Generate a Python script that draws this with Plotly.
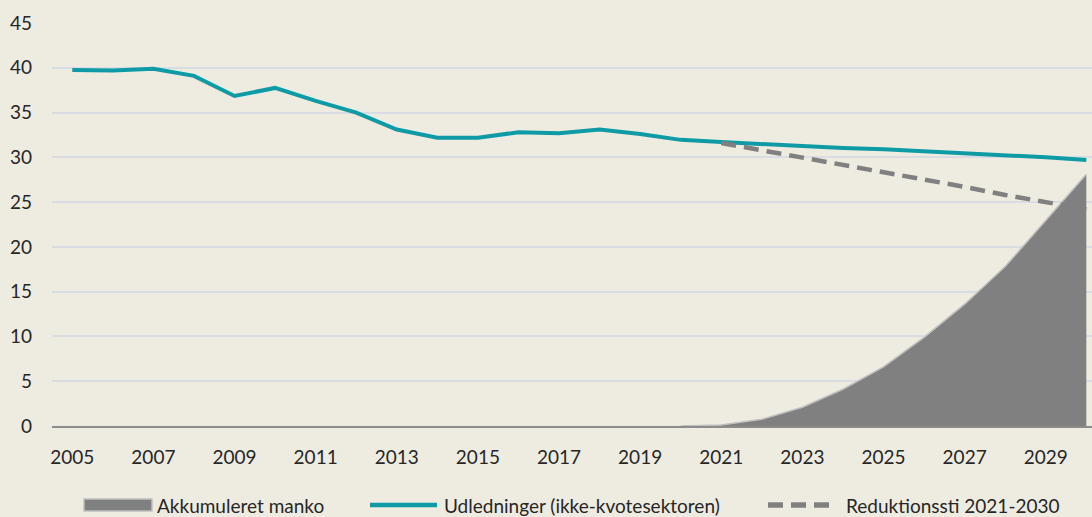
import plotly.graph_objects as go

years = list(range(2005, 2031))
udledninger = [39.75, 39.7, 39.9, 39.1, 36.85, 37.75, 36.3, 35.0, 33.1, 32.2, 32.2, 32.8,
               32.7, 33.1, 32.6, 31.95, 31.7, 31.45, 31.25, 31.05, 30.9, 30.7, 30.4, 30.2, 30.0, 29.7]

red_years = list(range(2021, 2031))
reduktionssti = [31.6, 30.8, 29.9, 29.1, 28.3, 27.5, 26.7, 25.8, 25.0, 24.2]

manko_years = list(range(2020, 2031))
manko = [0.0, 0.1, 0.75, 2.1, 4.1, 6.6, 9.9, 13.6, 17.8, 22.9, 28.1]

legend_names = ["Akkumuleret manko", "Udledninger (ikke-kvotesektoren)", "Reduktionssti 2021-2030"]

BG = "#EEECE1"
FONT = "Lato"
TXT = "#262626"
TEAL = "#0E9BA6"
GREY = "#808080"

W, H = 1092, 517
ML, MR, MT, MB = 52, 0, 23, 91
PW, PH = W - ML - MR, H - MT - MB


def px(x):
    return (x - ML) / PW


def py(y):
    return (H - MB - y) / PH


fig = go.Figure()
fig.add_trace(go.Scatter(
    x=manko_years, y=manko, name=legend_names[0], mode="lines",
    fill="tozeroy", fillcolor=GREY, line=dict(color="#BFBFBF", width=1.5),
    showlegend=False,
))
fig.add_trace(go.Scatter(
    x=years, y=udledninger, name=legend_names[1], mode="lines",
    line=dict(color=TEAL, width=4), showlegend=False,
))
fig.add_trace(go.Scatter(
    x=red_years, y=reduktionssti, name=legend_names[2], mode="lines",
    line=dict(color=GREY, width=4.5, dash="15px,8px"), showlegend=False,
))

# legend drawn as shapes + text
ly = 505
shapes = [
    dict(type="rect", xref="paper", yref="paper", x0=px(84), x1=px(152), y0=py(ly + 6), y1=py(ly - 6),
         fillcolor=GREY, line=dict(color="#BFBFBF", width=1.5), layer="above"),
    dict(type="line", xref="paper", yref="paper", x0=px(370), x1=px(437), y0=py(ly), y1=py(ly),
         line=dict(color=TEAL, width=4.5), layer="above"),
    dict(type="line", xref="paper", yref="paper", x0=px(768), x1=px(833), y0=py(ly), y1=py(ly),
         line=dict(color=GREY, width=5.5, dash="15px,8px"), layer="above"),
]
annotations = [
    dict(text=legend_names[0], x=px(157), y=py(ly), xref="paper", yref="paper",
         xanchor="left", yanchor="middle", showarrow=False),
    dict(text=legend_names[1], x=px(444), y=py(ly), xref="paper", yref="paper",
         xanchor="left", yanchor="middle", showarrow=False),
    dict(text=legend_names[2], x=px(846), y=py(ly), xref="paper", yref="paper",
         xanchor="left", yanchor="middle", showarrow=False),
]
for a in annotations:
    a["font"] = dict(family=FONT, size=19, color=TXT)
    a["xshift"] = -2

fig.update_layout(
    width=W, height=H,
    paper_bgcolor=BG, plot_bgcolor=BG,
    margin=dict(l=ML, r=MR, t=MT, b=MB),
    font=dict(family=FONT, size=19, color=TXT),
    showlegend=False,
    shapes=shapes,
    annotations=annotations,
    xaxis=dict(range=[2004.5, 2030.14], tick0=2005, dtick=2, showgrid=False,
               zeroline=False, showline=True, linecolor="#8C8C8C", linewidth=2,
               ticks="", ticklabelstandoff=13, tickfont=dict(size=19), automargin=False),
    yaxis=dict(range=[0, 45], dtick=5, showgrid=True, gridcolor="#D9DCE3", gridwidth=1.5,
               zeroline=False, showline=False, ticks="", ticklabelstandoff=19,
               tickfont=dict(size=19), automargin=False),
)

fig.write_html("out.html", config={"displayModeBar": False},
               post_script="document.body.style.margin='0';document.body.style.overflow='hidden';")
